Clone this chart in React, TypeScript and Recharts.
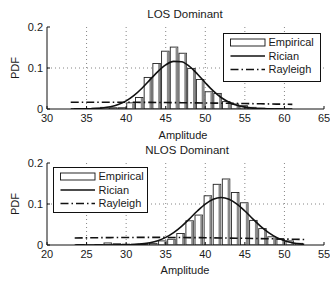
import React from 'react';
import { ComposedChart, Bar, Line, XAxis, YAxis, CartesianGrid } from 'recharts';

// ---------- LOS Dominant ----------
const losBinAmp = [33.9, 35.0, 36.1, 37.2, 38.3, 39.4, 40.5, 41.6, 42.7, 43.8, 44.9, 46.0, 47.1, 48.2, 49.3, 50.4, 51.5, 52.6, 53.7, 54.8, 55.9, 57.0, 58.1, 59.2, 60.3];
const losBinPdf = [0.001, 0.001, 0.002, 0.004, 0.003, 0.003, 0.015, 0.028, 0.077, 0.111, 0.141, 0.151, 0.136, 0.099, 0.072, 0.042, 0.038, 0.018, 0.012, 0.008, 0.004, 0.002, 0.001, 0.001, 0.0];
const losRicianAmp = [33, 34, 35, 36, 37, 38, 39, 40, 41, 42, 43, 44, 45, 46, 47, 48, 49, 50, 51, 52, 53, 54, 55, 56, 57, 58, 59, 60, 61];
const losRicianPdf = [0.0001, 0.0002, 0.0004, 0.0011, 0.0026, 0.0055, 0.0109, 0.0199, 0.0332, 0.0507, 0.071, 0.0912, 0.1075, 0.1162, 0.1152, 0.104, 0.0855, 0.064, 0.044, 0.028, 0.0165, 0.009, 0.0045, 0.002, 0.0008, 0.0003, 0.0001, 0, 0];
const losRayleighAmp = [33, 35, 37, 39, 41, 43, 45, 47, 49, 51, 53, 55, 57, 59, 61];
const losRayleighPdf = [0.0163, 0.0165, 0.0165, 0.0165, 0.0163, 0.0161, 0.0158, 0.0154, 0.0149, 0.0144, 0.0139, 0.0133, 0.0127, 0.012, 0.0114];
const losTicksX = [30, 35, 40, 45, 50, 55, 60, 65];

// ---------- NLOS Dominant ----------
const nlosBinAmp = [24.2, 25.35, 26.5, 27.65, 28.8, 29.95, 31.1, 32.25, 33.4, 34.55, 35.7, 36.85, 38.0, 39.15, 40.3, 41.45, 42.6, 43.75, 44.9, 46.05, 47.2, 48.35, 49.5, 50.65, 51.8];
const nlosBinPdf = [0.001, 0.0, 0.001, 0.005, 0.003, 0.002, 0.002, 0.002, 0.004, 0.01, 0.014, 0.028, 0.059, 0.073, 0.12, 0.148, 0.161, 0.128, 0.103, 0.06, 0.04, 0.02, 0.014, 0.01, 0.004];
const nlosRicianAmp = [23.5, 25, 27, 28, 29, 30, 31, 32, 33, 34, 35, 36, 37, 38, 39, 40, 41, 42, 43, 44, 45, 46, 47, 48, 49, 50, 51, 52, 52.5];
const nlosRicianPdf = [0, 0, 0, 0.0001, 0.0002, 0.0005, 0.0013, 0.0028, 0.0057, 0.0106, 0.0186, 0.0303, 0.0456, 0.0639, 0.0829, 0.0999, 0.1118, 0.116, 0.1118, 0.0999, 0.0829, 0.0639, 0.0456, 0.0303, 0.0186, 0.0106, 0.0057, 0.0028, 0.002];
const nlosRayleighAmp = [23.5, 26, 28, 30, 32, 34, 36, 38, 40, 42, 44, 46, 48, 50, 52.5];
const nlosRayleighPdf = [0.017, 0.0177, 0.0181, 0.0184, 0.0185, 0.0185, 0.0184, 0.0181, 0.0177, 0.0172, 0.0166, 0.016, 0.0153, 0.0145, 0.0135];
const nlosTicksX = [20, 25, 30, 35, 40, 45, 50, 55];

const ticksY = [0, 0.1, 0.2];
const FONT = '"Liberation Sans", Arial, Helvetica, sans-serif';
const TXT = '#1a1a1a';

const zip = (xs: number[], ys: number[]) => xs.map((x, i) => ({ x, v: ys[i] }));

const HistBar = (props: any) => {
  const { x, y, width, height } = props;
  if (!height || height <= 0) return <g />;
  return (
    <g>
      <rect x={x} y={y} width={width} height={height} fill="#fff" stroke="#222" strokeWidth={0.9} />
      <rect x={x + width - 2.2} y={y + 0.5} width={2.2} height={height - 0.5} fill="#8a8a8a" />
    </g>
  );
};

const EmptyTick = () => <g />;

type PanelProps = {
  bins: { x: number; v: number }[];
  rician: { x: number; v: number }[];
  rayleigh: { x: number; v: number }[];
  domainX: [number, number];
  ticksX: number[];
  marginTop: number;
  marginBottom: number;
};

const Panel = ({ bins, rician, rayleigh, domainX, ticksX, marginTop, marginBottom }: PanelProps) => (
  <ComposedChart
    width={330}
    height={142}
    data={bins}
    margin={{ top: marginTop, right: 6, bottom: marginBottom, left: 0 }}
  >
    <CartesianGrid
      stroke="#666"
      strokeDasharray="1 3"
      strokeWidth={0.8}
      horizontalValues={[0.1]}
      verticalValues={ticksX.slice(1, -1)}
    />
    <XAxis
      dataKey="x"
      type="number"
      domain={domainX}
      ticks={ticksX}
      interval={0}
      allowDataOverflow
      height={20}
      tickSize={-3}
      tickMargin={8}
      stroke="#111"
      tick={{ fill: TXT, fontSize: 11, fontFamily: FONT }}
    />
    <XAxis
      xAxisId="top"
      dataKey="x"
      type="number"
      orientation="top"
      domain={domainX}
      ticks={ticksX}
      interval={0}
      allowDataOverflow
      height={0}
      tickSize={-3}
      stroke="#111"
      tick={EmptyTick}
    />
    <YAxis
      type="number"
      domain={[0, 0.2]}
      ticks={ticksY}
      interval={0}
      allowDataOverflow
      width={47}
      tickSize={-3}
      tickMargin={7}
      stroke="#111"
      tick={{ fill: TXT, fontSize: 11, fontFamily: FONT }}
    />
    <YAxis
      yAxisId="right"
      type="number"
      orientation="right"
      domain={[0, 0.2]}
      ticks={ticksY}
      interval={0}
      allowDataOverflow
      width={0}
      tickSize={-3}
      stroke="#111"
      tick={EmptyTick}
    />
    <Bar dataKey="v" barSize={7.5} shape={HistBar} isAnimationActive={false} />
    <Line
      xAxisId="top"
      data={rayleigh}
      dataKey="v"
      type="monotone"
      stroke="#111"
      strokeWidth={1.6}
      strokeDasharray="8 3 1.5 3"
      dot={false}
      activeDot={false}
      isAnimationActive={false}
    />
    <Line
      xAxisId="top"
      data={rician}
      dataKey="v"
      type="monotone"
      stroke="#111"
      strokeWidth={1.6}
      dot={false}
      activeDot={false}
      isAnimationActive={false}
    />
  </ComposedChart>
);

const LegendBox = ({ left, top, width, height }: { left: number; top: number; width: number; height: number }) => {
  const rows = [9.5, 23, 36.5];
  const sx0 = 7.5;
  const sx1 = 42;
  const tx = 45.5;
  return (
    <svg
      width={width + 1}
      height={height + 1}
      style={{ position: 'absolute', left, top, overflow: 'visible' }}
    >
      <rect x={0.5} y={0.5} width={width} height={height} fill="#fff" stroke="#111" strokeWidth={1} />
      <rect x={sx0} y={rows[0] - 3.5} width={sx1 - sx0} height={7} fill="#fff" stroke="#111" strokeWidth={0.9} />
      <line x1={sx0} x2={sx1} y1={rows[1]} y2={rows[1]} stroke="#111" strokeWidth={1.6} />
      <line x1={sx0} x2={sx1} y1={rows[2]} y2={rows[2]} stroke="#111" strokeWidth={1.6} strokeDasharray="8 3 1.5 3" />
      {['Empirical', 'Rician', 'Rayleigh'].map((t, i) => (
        <text key={t} x={tx} y={rows[i]} dy="0.36em" fontSize={11} fontFamily={FONT} fill={TXT}>
          {t}
        </text>
      ))}
    </svg>
  );
};

const textStyle: React.CSSProperties = {
  position: 'absolute',
  fontFamily: FONT,
  color: TXT,
  whiteSpace: 'nowrap',
  lineHeight: 1,
};

export default function App() {
  return (
    <div style={{ position: 'absolute', left: 0, top: 0, width: 330, height: 284, background: '#fff' }}>
      <div style={{ position: 'absolute', left: 0, top: 0 }}>
        <Panel
          bins={zip(losBinAmp, losBinPdf)}
          rician={zip(losRicianAmp, losRicianPdf)}
          rayleigh={zip(losRayleighAmp, losRayleighPdf)}
          domainX={[30, 65]}
          ticksX={losTicksX}
          marginTop={27}
          marginBottom={13}
        />
      </div>
      <div style={{ position: 'absolute', left: 0, top: 142 }}>
        <Panel
          bins={zip(nlosBinAmp, nlosBinPdf)}
          rician={zip(nlosRicianAmp, nlosRicianPdf)}
          rayleigh={zip(nlosRayleighAmp, nlosRayleighPdf)}
          domainX={[20, 55]}
          ticksX={nlosTicksX}
          marginTop={21}
          marginBottom={19}
        />
      </div>

      <LegendBox left={223} top={33} width={97} height={48} />
      <LegendBox left={53} top={167} width={94} height={45} />

      <div style={{ ...textStyle, left: 185, top: 15, fontSize: 11.5, transform: 'translate(-50%, -50%)' }}>LOS Dominant</div>
      <div style={{ ...textStyle, left: 187, top: 150.5, fontSize: 11.5, transform: 'translate(-50%, -50%)' }}>NLOS Dominant</div>
      <div style={{ ...textStyle, left: 183, top: 135, fontSize: 11, transform: 'translate(-50%, -50%)' }}>Amplitude</div>
      <div style={{ ...textStyle, left: 185, top: 270, fontSize: 11, transform: 'translate(-50%, -50%)' }}>Amplitude</div>
      <div style={{ ...textStyle, left: 15, top: 68, fontSize: 11, transform: 'translate(-50%, -50%) rotate(-90deg)' }}>PDF</div>
      <div style={{ ...textStyle, left: 15, top: 204, fontSize: 11, transform: 'translate(-50%, -50%) rotate(-90deg)' }}>PDF</div>
    </div>
  );
}
